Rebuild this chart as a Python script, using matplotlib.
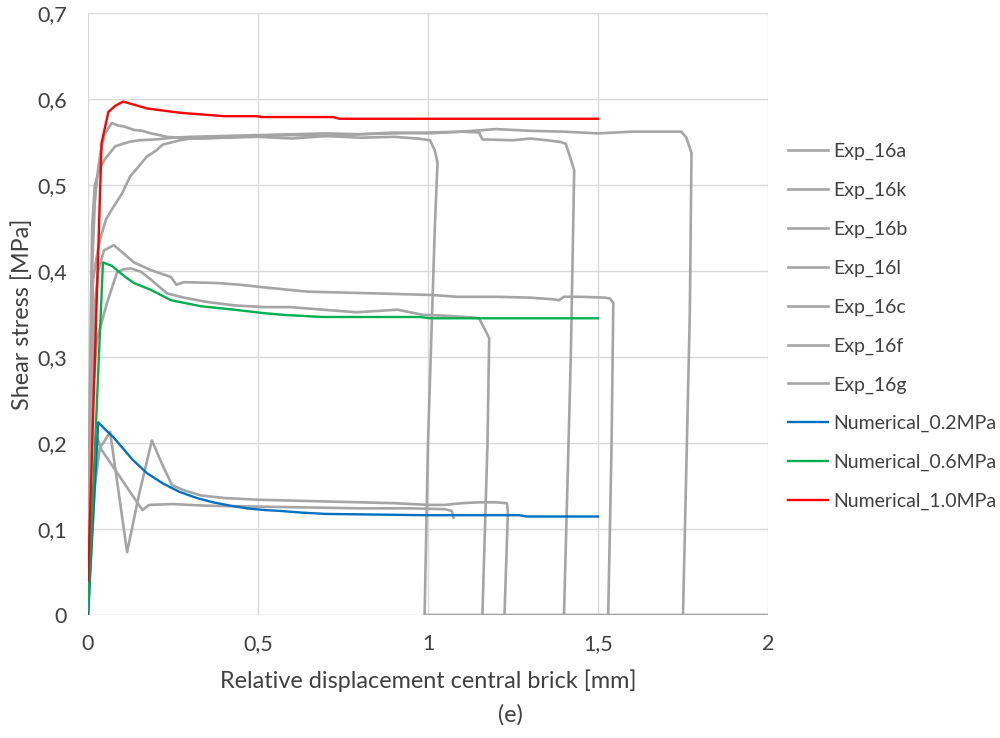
import numpy as np
import matplotlib
matplotlib.use("Agg")
import matplotlib.pyplot as plt

plt.rcParams['font.family'] = ['Lato', 'DejaVu Sans']

# experimental curves (displacement [mm], shear stress [MPa])
exp_16a_x = [0, 0.01, 0.02, 0.035, 0.045, 0.065, 0.09, 0.115, 0.15, 0.188, 0.215, 0.247, 0.282, 0.332,
             0.4, 0.5, 0.6, 0.7, 0.8, 0.9, 1.0, 1.05, 1.1, 1.15, 1.2, 1.232, 1.235, 1.23, 1.225]
exp_16a_y = [0, 0.08, 0.15, 0.195, 0.2, 0.213, 0.143, 0.073, 0.14, 0.203, 0.178, 0.151, 0.145, 0.139,
             0.136, 0.134, 0.133, 0.132, 0.131, 0.13, 0.128, 0.128, 0.13, 0.131, 0.131, 0.13, 0.12, 0.06, 0]

exp_16k_x = [0, 0.01, 0.02, 0.028, 0.04, 0.1, 0.16, 0.18, 0.25, 0.35, 0.5, 0.65, 0.8, 0.95, 1.05, 1.07, 1.075]
exp_16k_y = [0, 0.09, 0.17, 0.205, 0.192, 0.157, 0.122, 0.128, 0.129, 0.127, 0.126, 0.125, 0.124, 0.124,
             0.123, 0.121, 0.113]

exp_16b_x = [0, 0.005, 0.01, 0.02, 0.03, 0.047, 0.076, 0.1, 0.135, 0.185, 0.244, 0.26, 0.282, 0.38, 0.447,
             0.517, 0.644, 0.74, 0.84, 0.93, 1.015, 1.085, 1.2, 1.3, 1.37, 1.385, 1.4, 1.45, 1.52, 1.535,
             1.545, 1.54, 1.53]
exp_16b_y = [0, 0.12, 0.25, 0.36, 0.4, 0.424, 0.43, 0.422, 0.41, 0.401, 0.393, 0.384, 0.387, 0.386, 0.384,
             0.381, 0.376, 0.375, 0.374, 0.373, 0.372, 0.37, 0.37, 0.369, 0.367, 0.366, 0.37, 0.37, 0.369, 0.368,
             0.363, 0.2, 0]

exp_16l_x = [0, 0.008, 0.015, 0.026, 0.056, 0.085, 0.105, 0.126, 0.156, 0.185, 0.232, 0.282, 0.35, 0.43,
             0.517, 0.594, 0.69, 0.79, 0.91, 0.985, 1.05, 1.13, 1.15, 1.17, 1.18, 1.175, 1.16]
exp_16l_y = [0, 0.15, 0.26, 0.32, 0.363, 0.398, 0.402, 0.403, 0.399, 0.39, 0.374, 0.369, 0.364, 0.36,
             0.358, 0.358, 0.355, 0.352, 0.355, 0.349, 0.348, 0.346, 0.345, 0.33, 0.322, 0.2, 0]

exp_16c_x = [0, 0.005, 0.012, 0.02, 0.03, 0.038, 0.05, 0.07, 0.09, 0.106, 0.135, 0.16, 0.185, 0.21, 0.232,
             0.27, 0.32, 0.4, 0.5, 0.6, 0.7, 0.8, 0.9, 0.97, 1.006, 1.02, 1.028, 1.02, 1.0, 0.99, 2.0]
exp_16c_y = [0, 0.2, 0.4, 0.48, 0.52, 0.541, 0.56, 0.572, 0.569, 0.568, 0.564, 0.563, 0.56, 0.558, 0.556,
             0.555, 0.554, 0.555, 0.556, 0.554, 0.557, 0.555, 0.556, 0.554, 0.552, 0.54, 0.526, 0.45, 0.2, 0, 0]

exp_16f_x = [0, 0.005, 0.012, 0.02, 0.035, 0.05, 0.08, 0.12, 0.15, 0.2, 0.25, 0.3, 0.4, 0.5, 0.6, 0.7,
             0.8, 0.9, 1.0, 1.1, 1.15, 1.16, 1.25, 1.3, 1.35, 1.39, 1.405, 1.42, 1.43, 1.42, 1.4]
exp_16f_y = [0, 0.25, 0.45, 0.5, 0.52, 0.53, 0.545, 0.55, 0.552, 0.553, 0.555, 0.556, 0.557, 0.558, 0.559,
             0.56, 0.559, 0.561, 0.56, 0.562, 0.561, 0.553, 0.552, 0.554, 0.552, 0.55, 0.548, 0.53, 0.517,
             0.3, 0]

exp_16g_x = [0, 0.005, 0.01, 0.015, 0.025, 0.035, 0.053, 0.074, 0.1, 0.124, 0.15, 0.173, 0.2, 0.22, 0.25,
             0.27, 0.3, 0.4, 0.5, 0.6, 0.7, 0.8, 0.9, 1.0, 1.1, 1.2, 1.3, 1.4, 1.5, 1.6, 1.7, 1.745, 1.76,
             1.775, 1.77, 1.75]
exp_16g_y = [0, 0.15, 0.32, 0.39, 0.415, 0.436, 0.46, 0.474, 0.49, 0.51, 0.522, 0.533, 0.54, 0.547, 0.55,
             0.552, 0.554, 0.555, 0.557, 0.558, 0.557, 0.559, 0.56, 0.561, 0.562, 0.565, 0.563, 0.562, 0.56,
             0.562, 0.562, 0.562, 0.555, 0.537, 0.35, 0]

# numerical results
num_02_x = [0, 0.03, 0.05, 0.074, 0.1, 0.13, 0.173, 0.22, 0.27, 0.32, 0.368, 0.42, 0.467, 0.52, 0.565,
            0.63, 0.7, 0.8, 0.9, 1.0, 1.27, 1.29, 1.5]
num_02_y = [0, 0.224, 0.216, 0.207, 0.195, 0.181, 0.165, 0.153, 0.143, 0.136, 0.131, 0.127, 0.124, 0.122,
            0.121, 0.119, 0.1175, 0.117, 0.1165, 0.116, 0.116, 0.1145, 0.1145]

num_06_x = [0, 0.044, 0.07, 0.085, 0.11, 0.135, 0.185, 0.244, 0.332, 0.43, 0.517, 0.574, 0.69, 0.976,
            1.006, 1.5]
num_06_y = [0.006, 0.41, 0.406, 0.401, 0.393, 0.386, 0.378, 0.366, 0.359, 0.355, 0.351, 0.349, 0.3465,
            0.3465, 0.345, 0.345]

num_10_x = [0, 0.04, 0.06, 0.08, 0.103, 0.13, 0.173, 0.27, 0.4, 0.497, 0.51, 0.72, 0.74, 1.0, 1.5]
num_10_y = [0.04, 0.549, 0.585, 0.592, 0.597, 0.594, 0.589, 0.584, 0.58, 0.58, 0.579, 0.579, 0.577,
            0.577, 0.577]

exp_series = [
    ("Exp_16a", exp_16a_x, exp_16a_y),
    ("Exp_16k", exp_16k_x, exp_16k_y),
    ("Exp_16b", exp_16b_x, exp_16b_y),
    ("Exp_16l", exp_16l_x, exp_16l_y),
    ("Exp_16c", exp_16c_x, exp_16c_y),
    ("Exp_16f", exp_16f_x, exp_16f_y),
    ("Exp_16g", exp_16g_x, exp_16g_y),
]
num_series = [
    ("Numerical_0.2MPa", num_02_x, num_02_y, "#0070C0"),
    ("Numerical_0.6MPa", num_06_x, num_06_y, "#00B050"),
    ("Numerical_1.0MPa", num_10_x, num_10_y, "#FF0000"),
]

x_ticks = [0, 0.5, 1, 1.5, 2]
x_labels = ["0", "0,5", "1", "1,5", "2"]
y_ticks = [0, 0.1, 0.2, 0.3, 0.4, 0.5, 0.6, 0.7]
y_labels = ["0", "0,1", "0,2", "0,3", "0,4", "0,5", "0,6", "0,7"]

txt = "#404040"

fig = plt.figure(figsize=(10, 7.38), dpi=100)
ax = fig.add_axes([0.088, 0.1667, 0.68, 0.8157])

for name, xs, ys in exp_series:
    ax.plot(xs, ys, color="#A5A5A5", lw=1.9, label=name, solid_joinstyle="round")
for name, xs, ys, c in num_series:
    ax.plot(xs, ys, color=c, lw=1.7, label=name, solid_joinstyle="round")

ax.set_xlim(0, 2)
ax.set_ylim(0, 0.7)
ax.set_xticks(x_ticks)
ax.set_xticklabels(x_labels)
ax.set_yticks(y_ticks)
ax.set_yticklabels(y_labels)
ax.tick_params(length=0, labelsize=15.5, colors=txt)
ax.tick_params(axis="x", pad=13.5)
ax.tick_params(axis="y", pad=15)
ax.grid(True, color="#D9D9D9", lw=1)
ax.set_axisbelow(True)
for s in ax.spines.values():
    s.set_visible(False)

ax.set_xlabel("Relative displacement central brick [mm]", fontsize=16.8, color=txt, labelpad=11)
ax.set_ylabel("Shear stress [MPa]", fontsize=16.8, color=txt, labelpad=3)

ax.legend(loc="upper left", bbox_to_anchor=(0.788, 0.806), bbox_transform=fig.transFigure,
          frameon=False, fontsize=14, handlelength=2.06, handletextpad=0.26, labelspacing=1.11,
          borderpad=0, borderaxespad=0, labelcolor=txt)

fig.text(0.51, 0.031, "(e)", ha="center", va="center", fontsize=16.8, color=txt)

fig.savefig("out.png", dpi=100)
